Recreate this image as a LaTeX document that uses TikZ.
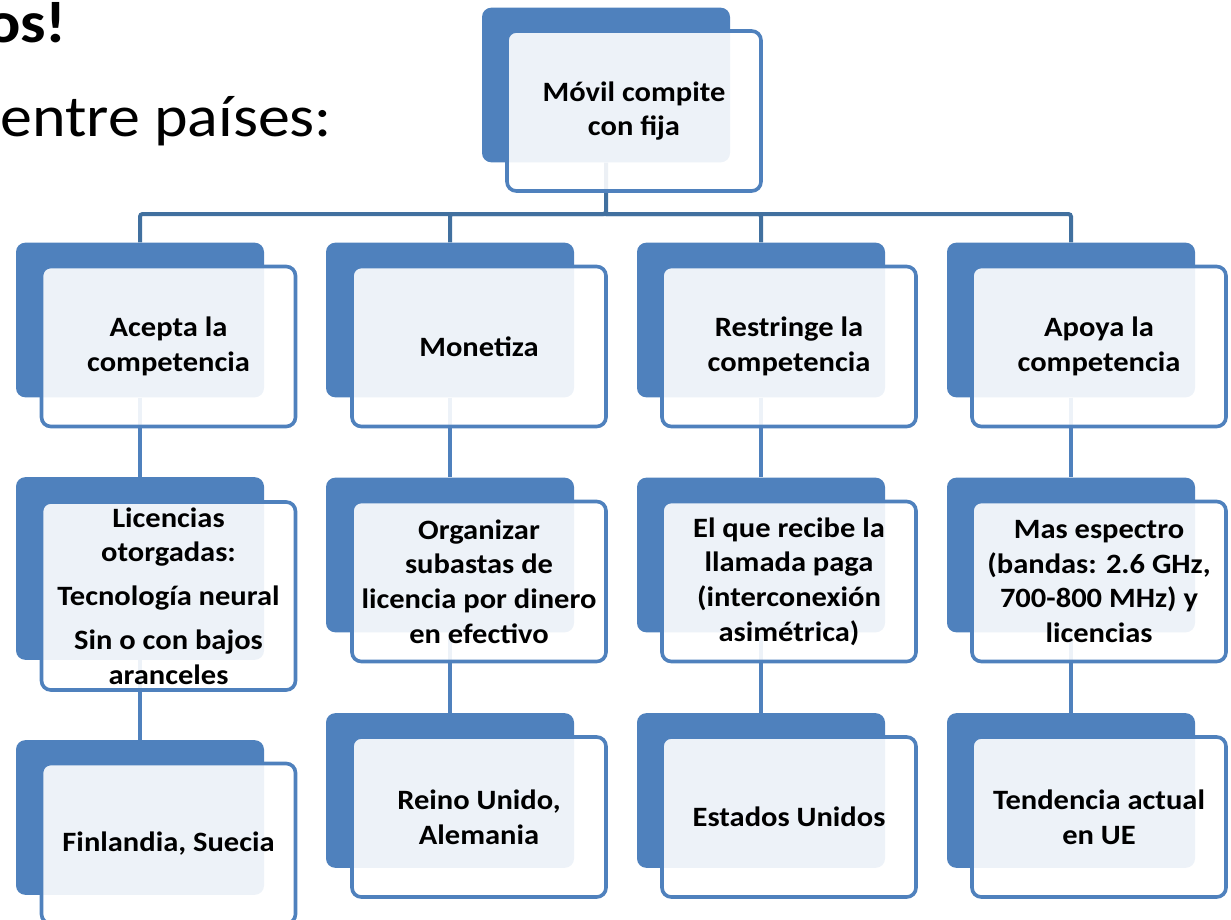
\documentclass[tikz,border=0pt]{standalone}
\usepackage{fontspec}
\setmainfont{Carlito}[FakeStretch=1.09]
\usetikzlibrary{positioning,backgrounds}
\definecolor{boxblue}{HTML}{4F81BD}
\definecolor{busblue}{HTML}{41709F}

\begin{document}
\begin{tikzpicture}[x=0.75pt,y=-0.75pt,
  back/.style={rectangle, rounded corners=7pt, fill=boxblue, minimum width=186pt, minimum height=116pt, inner sep=0pt},
  front/.style={rectangle, rounded corners=7pt, draw=boxblue, line width=2.7pt, fill=white, fill opacity=0.9, text opacity=1, minimum width=190.5pt, minimum height=120pt, inner sep=2pt, align=center, font=\bfseries\fontsize{21}{26}\selectfont},
  bus/.style={draw=busblue, line width=3pt, rounded corners=2pt},
  link/.style={draw=boxblue, line width=3pt}]
  \useasboundingbox (0,0) rectangle (1231,920);
  \node[anchor=base east, inner sep=0pt, font=\bfseries\fontsize{44}{52}\selectfont] (title) at (67,43) {os!};
  \node[anchor=base west, inner sep=0pt, font=\fontsize{44}{52}\selectfont] (entre) at (0,137) {entre países:};
  % top
  \node[back] (b-movil) at (606,85) {};
  \node[front] (movil) at (634,111) {Móvil compite\\con fija};
  % row 1
  \node[back] (b-acepta) at (140,320) {};
  \node[front] (acepta) at (168.5,346.5) {Acepta la\\competencia};
  \node[back] (b-monetiza) at (450,320) {};
  \node[front] (monetiza) at (479,346.5) {Monetiza};
  \node[back] (b-restringe) at (761,320) {};
  \node[front] (restringe) at (789,346.5) {Restringe la\\competencia};
  \node[back] (b-apoya) at (1071,320) {};
  \node[front] (apoya) at (1099,346.5) {Apoya la\\competencia};
  % row 2
  \node[back, minimum height=137pt] (b-licencias) at (140,568.5) {};
  \node[front, minimum height=141pt] (licencias) at (168.5,596)
    {Licencias\\otorgadas:\\[7pt]Tecnología neural\\[7pt]Sin o con bajos\\aranceles};
  \node[back] (b-subastas) at (450,555) {};
  \node[front] (subastas) at (479,581.5) {Organizar\\subastas de\\licencia por dinero\\en efectivo};
  \node[back] (b-llamada) at (761,555) {};
  \node[front] (llamada) at (789,581.5) {El que recibe la\\llamada paga\\(interconexión\\asimétrica)};
  \node[back] (b-espectro) at (1071,555) {};
  \node[front] (espectro) at (1099,581.5) {Mas espectro\\(bandas: 2.6 GHz,\\700-800 MHz) y\\licencias};
  % row 3
  \node[back] (b-finlandia) at (140,817.5) {};
  \node[front] (finlandia) at (168.5,843.5) {Finlandia, Suecia};
  \node[back] (b-reino) at (450,790.5) {};
  \node[front] (reino) at (479,817) {Reino Unido,\\Alemania};
  \node[back] (b-eeuu) at (761,790.5) {};
  \node[front] (eeuu) at (789,817) {Estados Unidos};
  \node[back] (b-ue) at (1071,790.5) {};
  \node[front] (ue) at (1099,817) {Tendencia actual\\en UE};
  % connectors
  \begin{pgfonlayer}{background}
    \coordinate (bus) at (606,214);
    \draw[bus] (b-movil.south) -- (bus) -| (b-acepta.north);
    \draw[bus] (bus) -| (b-monetiza.north);
    \draw[bus] (bus) -| (b-restringe.north);
    \draw[bus] (bus) -| (b-apoya.north);
    \draw[link] (b-acepta) -- (b-licencias) -- (b-finlandia);
    \draw[link] (b-monetiza) -- (b-subastas) -- (b-reino);
    \draw[link] (b-restringe) -- (b-llamada) -- (b-eeuu);
    \draw[link] (b-apoya) -- (b-espectro) -- (b-ue);
  \end{pgfonlayer}
\end{tikzpicture}
\end{document}
